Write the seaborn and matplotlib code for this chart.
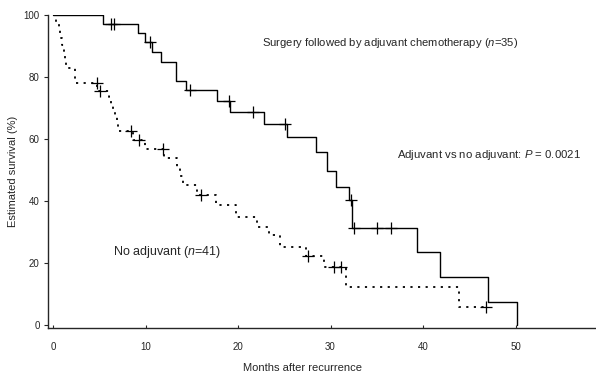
import numpy as np
import pandas as pd
import seaborn as sns
import matplotlib.pyplot as plt

# Kaplan-Meier steps (months, % surviving)
adj_time = [0, 5.4, 9.2, 9.9, 10.7, 11.7, 13.3, 14.4, 17.7, 19.1, 22.8, 25.3,
            28.4, 29.6, 30.6, 32.0, 32.3, 39.4, 41.8, 47.0, 50.2]
adj_surv = [100, 97.1, 94.2, 91.3, 88.0, 84.8, 78.6, 75.8, 72.2, 68.6, 64.8, 60.7,
            55.9, 49.5, 44.6, 40.3, 31.2, 23.6, 15.6, 7.5, 0]
adj_censor = [6.3, 6.6, 10.5, 14.8, 19.0, 21.6, 25.1, 32.2, 32.5, 35.0, 36.5]

noadj_time = [0, 0.3, 0.6, 0.8, 1.0, 1.2, 1.3, 1.4, 2.4, 4.8, 6.1, 6.3, 6.5, 6.7,
              6.9, 7.0, 8.6, 9.9, 12.0, 13.4, 13.7, 14.0, 15.6, 17.6, 19.8, 22.1,
              23.4, 24.5, 27.4, 29.3, 31.7, 43.9, 46.8]
noadj_surv = [100, 97.6, 95.1, 92.7, 90.2, 87.8, 85.4, 82.9, 78.0, 75.6, 73.5, 71.4,
              69.2, 67.0, 64.8, 62.5, 59.7, 56.7, 53.8, 51.0, 48.2, 45.2, 41.9, 38.7,
              34.9, 31.7, 29.0, 25.3, 22.3, 18.8, 12.4, 5.9, 5.9]
noadj_censor = [4.7, 5.1, 8.4, 9.3, 11.9, 16.0, 27.6, 30.4, 31.1, 46.8]

x_ticks = [0, 10, 20, 30, 40, 50]
y_ticks = [0, 20, 40, 60, 80, 100]


def censor_frame(times, survs, censors):
    times = np.array(times)
    idx = np.searchsorted(times, censors, side="right") - 1
    return pd.DataFrame({"t": censors, "s": np.array(survs)[idx]})


sns.set_style("ticks")
plt.rcParams["font.family"] = ["Liberation Sans", "DejaVu Sans"]
plt.rcParams["mathtext.fontset"] = "custom"
plt.rcParams["mathtext.it"] = "Liberation Sans:italic"
plt.rcParams["mathtext.rm"] = "Liberation Sans"

fig = plt.figure(figsize=(5.96, 3.72), dpi=100)
ax = fig.add_axes([0.0805, 0.118, 0.9195, 0.842])

adj = pd.DataFrame({"t": adj_time, "s": adj_surv})
noadj = pd.DataFrame({"t": noadj_time, "s": noadj_surv})

sns.lineplot(data=adj, x="t", y="s", ax=ax, color="black", lw=1.0,
             drawstyle="steps-post", estimator=None)
sns.lineplot(data=noadj, x="t", y="s", ax=ax, color="black", lw=1.3,
             linestyle=(0, (1.2, 3)), drawstyle="steps-post", estimator=None)

for times, survs, cens in [(adj_time, adj_surv, adj_censor),
                           (noadj_time, noadj_surv, noadj_censor)]:
    sns.scatterplot(data=censor_frame(times, survs, cens), x="t", y="s", ax=ax,
                    marker="+", s=70, color="black", linewidth=0.9, zorder=3)

ax.set_xlim(-0.55, 58.7)
ax.set_ylim(-1, 100)
ax.set_xticks(x_ticks)
ax.set_yticks(y_ticks)
ax.tick_params(axis="x", direction="in", length=2, width=0.8, pad=10, labelsize=7)
ax.tick_params(axis="y", direction="out", length=3, width=0.8, pad=3, labelsize=7)
sns.despine(ax=ax)
ax.spines["left"].set_bounds(-1, 100)
for sp in ["left", "bottom"]:
    ax.spines[sp].set_linewidth(1.0)

ax.set_xlabel("Months after recurrence", fontsize=8)
ax.xaxis.set_label_coords(0.465, -0.11)
ax.set_ylabel("Estimated survival (%)", fontsize=8, labelpad=4)

ax.text(22.6, 91.0, r"Surgery followed by adjuvant chemotherapy ($\it{n}$=35)",
        fontsize=8.1, va="center", ha="left")
ax.text(37.2, 54.8, r"Adjuvant vs no adjuvant: $\it{P}$ = 0.0021",
        fontsize=8.2, va="center", ha="left")
ax.text(6.5, 23.5, r"No adjuvant ($\it{n}$=41)", fontsize=9, va="center", ha="left")

fig.savefig("out.png", dpi=100)
